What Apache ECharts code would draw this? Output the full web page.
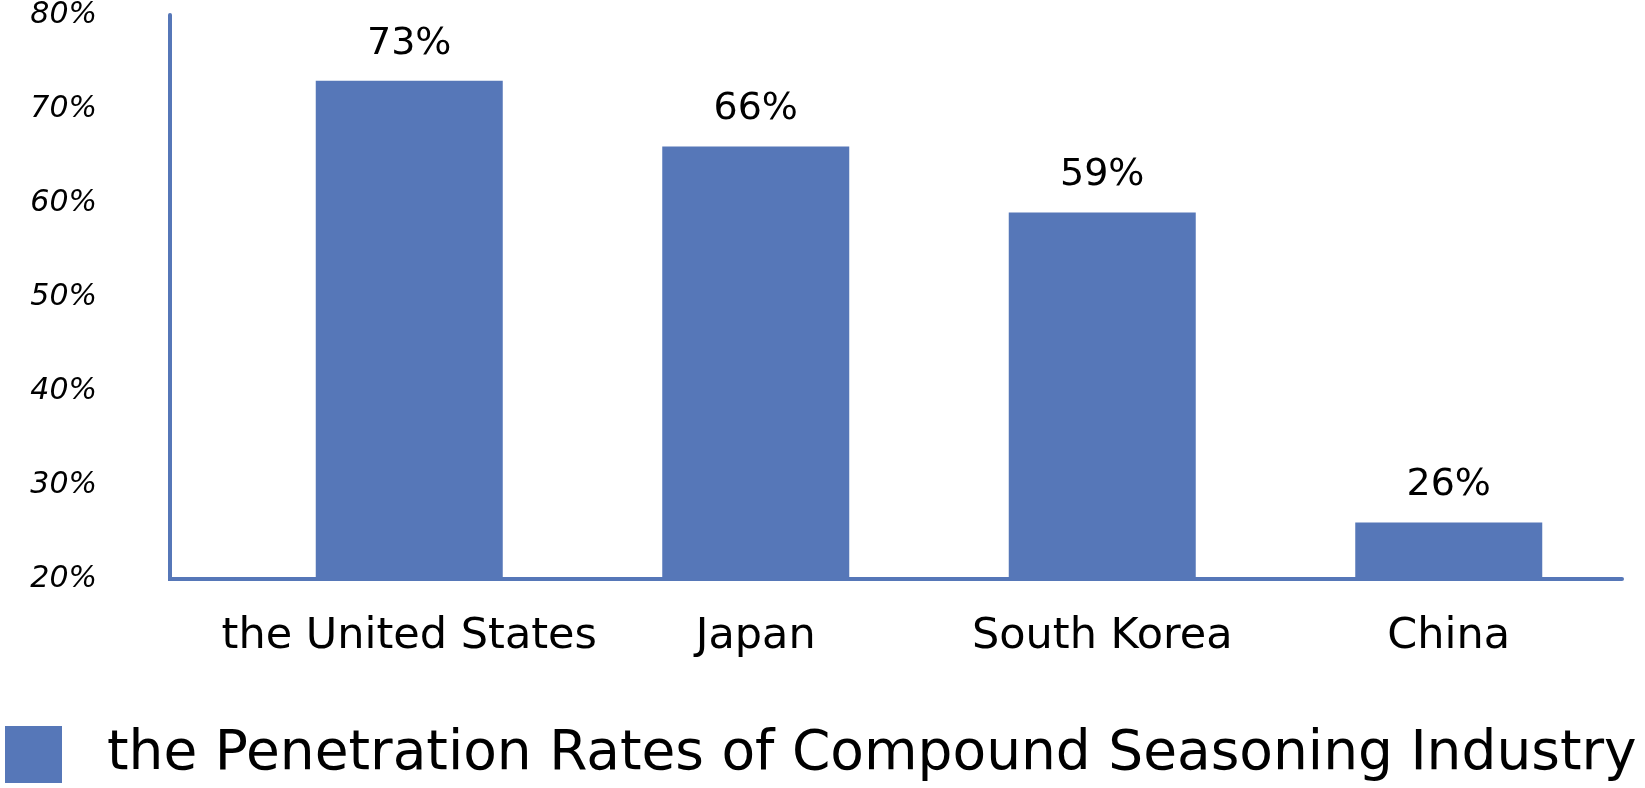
<!DOCTYPE html>
<html>
<head>
<meta charset="utf-8">
<script src="https://cdn.jsdelivr.net/npm/echarts@6/dist/echarts.min.js"></script>
<style>
html,body{margin:0;padding:0;background:#fff;}
#chart{width:1645px;height:788px;}
</style>
</head>
<body>
<div id="chart"></div>
<script>
const categories = ['the United States', 'Japan', 'South Korea', 'China'];
const seriesName = 'the Penetration Rates of Compound Seasoning Industry';
const penetrationRates = [73, 66, 59, 26];
const yMin = 20, yMax = 80, yInterval = 10;

const barColor = '#5677b8';
const chart = echarts.init(document.getElementById('chart'), null, {renderer: 'canvas'});

const gridLeft = 236, gridRight = 23, gridTop = 10, gridBottom = 209;
const axisX = 170;

chart.setOption({
  animation: false,
  backgroundColor: '#fff',
  grid: {left: gridLeft, right: gridRight, top: gridTop, bottom: gridBottom, containLabel: false},
  legend: {
    left: 0, top: 721,
    icon: 'rect',
    itemWidth: 57, itemHeight: 57,
    data: [seriesName],
    textStyle: {
      fontFamily: '"DejaVu Sans", sans-serif',
      fontWeight: 'normal',
      fontSize: 55,
      color: '#000',
      padding: [0, 0, 0, 40]
    }
  },
  xAxis: {
    type: 'category',
    data: categories,
    axisLine: {show: true, lineStyle: {color: barColor, width: 4}},
    axisTick: {show: false},
    axisLabel: {
      interval: 0,
      margin: 36,
      fontFamily: '"DejaVu Sans", sans-serif',
      fontSize: 43,
      color: '#000'
    }
  },
  yAxis: {
    type: 'value',
    min: yMin, max: yMax, interval: yInterval,
    offset: gridLeft - axisX,
    axisLine: {show: true, lineStyle: {color: barColor, width: 4}},
    axisTick: {show: false},
    splitLine: {show: false},
    axisLabel: {
      formatter: '{value}%',
      margin: 73,
      fontFamily: '"DejaVu Sans", sans-serif',
      fontStyle: 'italic',
      fontSize: 30,
      color: '#000'
    }
  },
  graphic: [{
    type: 'line',
    shape: {x1: axisX - 2, y1: 788 - gridBottom, x2: gridLeft, y2: 788 - gridBottom},
    style: {stroke: barColor, lineWidth: 4}
  }],
  series: [{
    name: seriesName,
    type: 'bar',
    data: penetrationRates,
    barWidth: 187,
    itemStyle: {color: barColor},
    label: {
      show: true,
      position: 'top',
      distance: 18,
      formatter: '{c}%',
      fontFamily: '"DejaVu Sans", sans-serif',
      fontSize: 38,
      color: '#000'
    }
  }]
});
</script>
</body>
</html>
